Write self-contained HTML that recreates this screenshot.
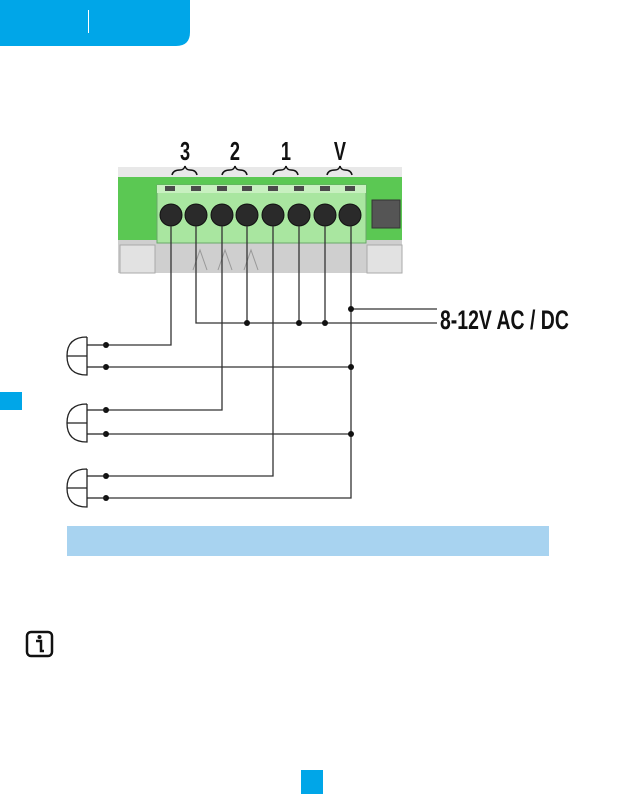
<!DOCTYPE html>
<html><head><style>
body{margin:0;width:624px;height:794px;background:#fff;position:relative;overflow:hidden;font-family:"Liberation Sans",sans-serif}
</style></head><body>
<svg width="624" height="794" viewBox="0 0 624 794" style="position:absolute;left:0;top:0">
<path d="M0 0H190V32Q190 46 176 46H0Z" fill="#00a6e8"/>
<line x1="88.5" y1="10" x2="88.5" y2="33" stroke="#fff" stroke-width="1"/>
<!-- photo -->
<rect x="118" y="167" width="284" height="106" fill="#dcdcdc"/>
<rect x="118" y="167" width="284" height="10" fill="#e8e8e8"/>
<rect x="118" y="177" width="284" height="63" fill="#5bc853"/>
<rect x="118" y="240" width="284" height="33" fill="#cfcfcf"/>
<rect x="120" y="245" width="35" height="28" fill="#e2e2e2" stroke="#aaa"/>
<rect x="367" y="245" width="35" height="28" fill="#e2e2e2" stroke="#aaa"/>
<rect x="157" y="185" width="209" height="58" fill="#a9e6a0" stroke="#6aa86a"/>
<rect x="157" y="185" width="209" height="8" fill="#c8f0c0"/>
<g fill="#4a4a4a"><rect x="165" y="186" width="10" height="5"/><rect x="191" y="186" width="10" height="5"/><rect x="217" y="186" width="10" height="5"/><rect x="242" y="186" width="10" height="5"/><rect x="268" y="186" width="10" height="5"/><rect x="294" y="186" width="10" height="5"/><rect x="320" y="186" width="10" height="5"/><rect x="345" y="186" width="10" height="5"/></g>
<rect x="372" y="200" width="28" height="28" fill="#555" stroke="#333"/>
<g fill="#2a2a2a" stroke="#111"><circle cx="171" cy="215" r="11"/><circle cx="196" cy="215" r="11"/><circle cx="222" cy="215" r="11"/><circle cx="247" cy="215" r="11"/><circle cx="273" cy="215" r="11"/><circle cx="299" cy="215" r="11"/><circle cx="325" cy="215" r="11"/><circle cx="350" cy="215" r="11"/></g>
<g stroke="#999" fill="none"><path d="M193 270L200 250L207 270"/><path d="M218 270L225 250L232 270"/><path d="M244 270L251 250L258 270"/></g>
<g font-family="Liberation Sans" font-weight="bold" font-size="26" text-anchor="middle" fill="#111">
<text x="185" y="160" transform="translate(185 0) scale(0.7 1) translate(-185 0)">3</text>
<text x="235" y="160" transform="translate(235 0) scale(0.7 1) translate(-235 0)">2</text>
<text x="286" y="160" transform="translate(286 0) scale(0.7 1) translate(-286 0)">1</text>
<text x="340" y="160" transform="translate(340 0) scale(0.7 1) translate(-340 0)">V</text></g>
<g stroke="#111" stroke-width="1.5" fill="none">
<path d="M172 175Q173 170 180 170Q184 170 185 166Q186 170 190 170Q196 170 197 175"/>
<path d="M222 175Q223 170 230 170Q234 170 235 166Q236 170 240 170Q246 170 247 175"/>
<path d="M273 175Q274 170 281 170Q285 170 286 166Q287 170 291 170Q297 170 298 175"/>
<path d="M327 175Q328 170 335 170Q339 170 340 166Q341 170 345 170Q351 170 352 175"/></g>
<!-- wires -->
<g stroke="#333" stroke-width="1.3" fill="none">
<path d="M171 226V345H106"/>
<path d="M196 226V323H437"/>
<line x1="247" y1="226" x2="247" y2="323"/><line x1="299" y1="226" x2="299" y2="323"/><line x1="325" y1="226" x2="325" y2="323"/>
<path d="M222 226V410H106"/>
<path d="M273 226V476H106"/>
<path d="M351 226V498H106"/>
<line x1="351" y1="309" x2="437" y2="309"/>
<line x1="106" y1="367" x2="351" y2="367"/>
<line x1="106" y1="434" x2="351" y2="434"/>
</g>
<g fill="#111"><circle cx="247" cy="323" r="3"/><circle cx="299" cy="323" r="3"/><circle cx="325" cy="323" r="3"/><circle cx="351" cy="309" r="3"/><circle cx="351" cy="367" r="3"/><circle cx="351" cy="434" r="3"/>
<circle cx="106" cy="345" r="3"/><circle cx="106" cy="367" r="3"/><circle cx="106" cy="410" r="3"/><circle cx="106" cy="434" r="3"/><circle cx="106" cy="476" r="3"/><circle cx="106" cy="498" r="3"/></g>
<g stroke="#222" stroke-width="1.3" fill="none">
<path d="M87 337V375Q67 375 67 356Q67 337 87 337M67 356H87M87 345H106M87 367H106"/>
<path d="M87 404V442Q67 442 67 423Q67 404 87 404M67 423H87M87 410H106M87 434H106"/>
<path d="M87 469V507Q67 507 67 488Q67 469 87 469M67 488H87M87 476H106M87 498H106"/>
</g>
<text x="440" y="329" font-family="Liberation Sans" font-weight="bold" font-size="27" fill="#111" transform="translate(440 0) scale(0.72 1) translate(-440 0)">8-12V AC / DC</text>
<rect x="67" y="526" width="482" height="30" fill="#a8d3f0"/>
<rect x="0" y="392" width="22" height="18" fill="#00a6e8"/>
<rect x="27" y="632" width="25" height="24" rx="4" fill="none" stroke="#111" stroke-width="2.5"/>
<circle cx="39.5" cy="637" r="2" fill="#111"/>
<path d="M36 641H41V651H44" stroke="#111" stroke-width="2.5" fill="none"/>
<rect x="301" y="770" width="22" height="24" fill="#00a6e8"/>
</svg>
</body></html>
